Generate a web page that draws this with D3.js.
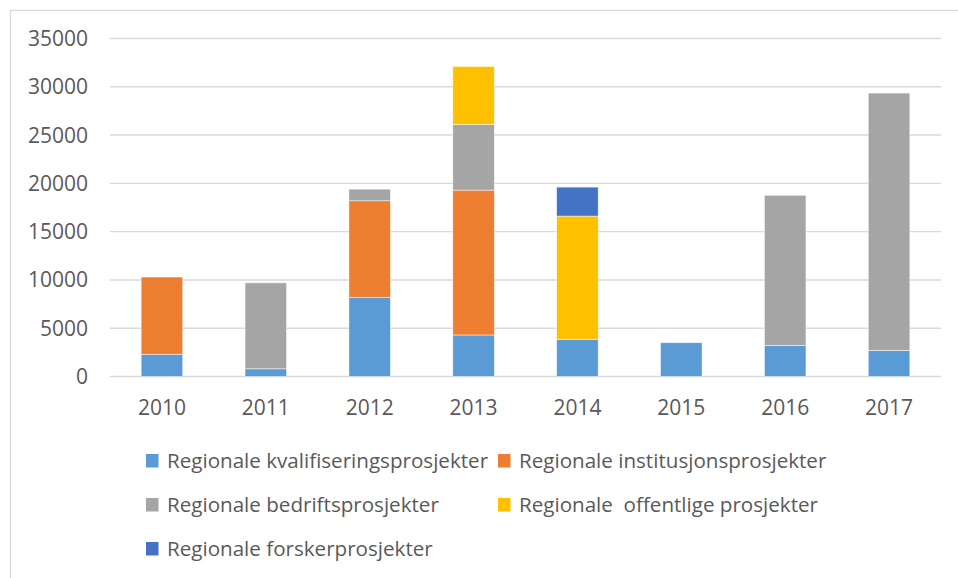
<!DOCTYPE html>
<html>
<head>
<meta charset="utf-8">
<script src="https://cdn.jsdelivr.net/npm/d3@7"></script>
<style>
  body { margin: 0; background: #fff; }
  svg { display: block; }
</style>
</head>
<body>
<div id="chart"></div>
<script>
// Data
const years = ["2010", "2011", "2012", "2013", "2014", "2015", "2016", "2017"];
const seriesNames = [
  "Regionale kvalifiseringsprosjekter",
  "Regionale institusjonsprosjekter",
  "Regionale bedriftsprosjekter",
  "Regionale  offentlige prosjekter",
  "Regionale forskerprosjekter"
];
const kvalifisering = [2300, 800, 8200, 4300, 3850, 3500, 3200, 2700];
const institusjon   = [8000, 0, 10000, 15000, 0, 0, 0, 0];
const bedrift       = [0, 8900, 1200, 6800, 0, 0, 15560, 26650];
const offentlige    = [0, 0, 0, 6000, 12760, 0, 0, 0];
const forsker       = [0, 0, 0, 0, 3000, 0, 0, 0];
const colors = ["#5B9BD5", "#ED7D31", "#A5A5A5", "#FFC000", "#4472C4"];
const yTicks = [0, 5000, 10000, 15000, 20000, 25000, 30000, 35000];

const width = 958, height = 578;
const plot = { left: 110, right: 941, top: 38.5, bottom: 376.5 };
const font = "'Open Sans', 'Liberation Sans', sans-serif";

const svg = d3.select("#chart").append("svg")
    .attr("width", width)
    .attr("height", height);

// chart border (runs off the right and bottom edge)
svg.append("rect")
    .attr("x", 10.5).attr("y", 10.5)
    .attr("width", 960).attr("height", 600)
    .attr("fill", "none")
    .attr("stroke", "#d9d9d9")
    .attr("stroke-width", 1.3);

const x = d3.scaleBand()
    .domain(years)
    .range([plot.left, plot.right])
    .paddingInner(0.6)
    .paddingOuter(0.3);

const y = d3.scaleLinear()
    .domain([0, 35000])
    .range([plot.bottom, plot.top]);

// gridlines
svg.append("g")
    .selectAll("line")
    .data(yTicks)
    .enter().append("line")
    .attr("x1", plot.left).attr("x2", plot.right)
    .attr("y1", d => y(d)).attr("y2", d => y(d))
    .attr("stroke", "#d9d9d9")
    .attr("stroke-width", 1.4);

// y labels
svg.append("g")
    .selectAll("text")
    .data(yTicks)
    .enter().append("text")
    .attr("x", 88)
    .attr("y", d => y(d) + 7.5)
    .attr("text-anchor", "end")
    .attr("font-family", font)
    .attr("font-size", 21)
    .attr("fill", "#595959")
    .text(d => d);

// stacked bars
const table = years.map((yr, i) => ({
  year: yr,
  s0: kvalifisering[i], s1: institusjon[i], s2: bedrift[i], s3: offentlige[i], s4: forsker[i]
}));
const stack = d3.stack().keys(["s0", "s1", "s2", "s3", "s4"]);
const layers = stack(table);

svg.append("g")
    .selectAll("g")
    .data(layers)
    .enter().append("g")
    .attr("fill", (d, i) => colors[i])
    .selectAll("rect")
    .data(d => d.filter(p => p[1] > p[0]))
    .enter().append("rect")
    .attr("x", d => x(d.data.year))
    .attr("width", x.bandwidth())
    .attr("y", d => y(d[1]))
    .attr("height", d => y(d[0]) - y(d[1]))
    .attr("stroke", "#ffffff")
    .attr("stroke-opacity", 0.6)
    .attr("stroke-width", 0.8);

// x labels
svg.append("g")
    .selectAll("text")
    .data(years)
    .enter().append("text")
    .attr("x", d => x(d) + x.bandwidth() / 2)
    .attr("y", 415)
    .attr("text-anchor", "middle")
    .attr("font-family", font)
    .attr("font-size", 21)
    .attr("fill", "#595959")
    .text(d => d);

// legend, two columns
const legendPos = [
  { x: 146, y: 467.5 }, { x: 498, y: 467.5 },
  { x: 146, y: 511.5 }, { x: 498, y: 511.5 },
  { x: 146, y: 555.5 }
];
const legend = svg.append("g")
    .selectAll("g")
    .data(seriesNames)
    .enter().append("g")
    .attr("transform", (d, i) => `translate(${legendPos[i].x},${legendPos[i].y})`);

legend.append("rect")
    .attr("x", 0).attr("y", -13.5)
    .attr("width", 12.5).attr("height", 13.5)
    .attr("fill", (d, i) => colors[i]);

legend.append("text")
    .attr("x", 21)
    .attr("y", 0)
    .attr("font-family", font)
    .attr("font-size", 20.6)
    .attr("fill", "#595959")
    .style("white-space", "pre")
    .text(d => d);
</script>
</body>
</html>
